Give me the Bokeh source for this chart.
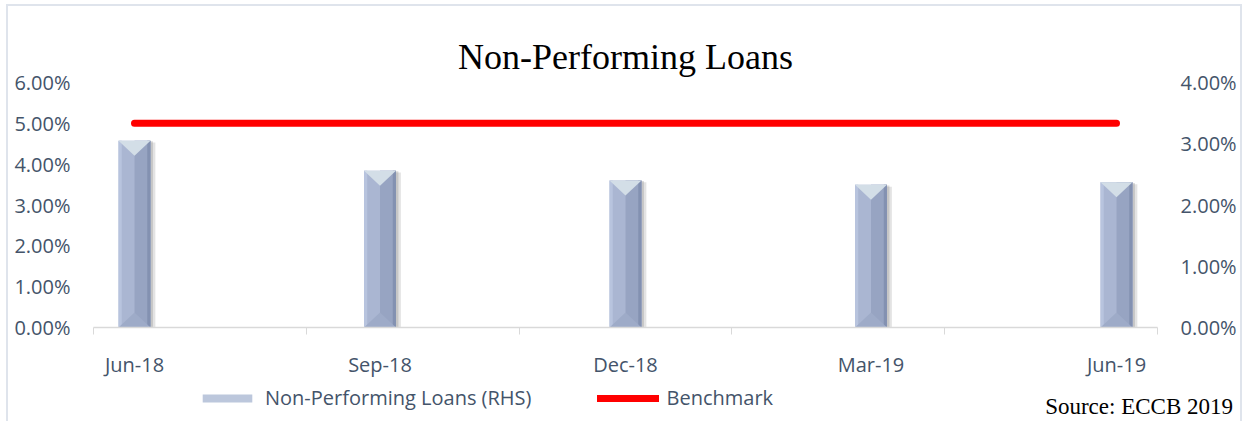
import numpy as np
from bokeh.plotting import figure
from bokeh.layouts import column
from bokeh.models import (Range1d, LinearAxis, FixedTicker, NumeralTickFormatter,
                          Legend, LegendItem, ColumnDataSource, Div)
from bokeh.embed import file_html
from bokeh.resources import INLINE

# ---- data ----
categories = ["Jun-18", "Sep-18", "Dec-18", "Mar-19", "Jun-19"]
npl_rhs = [0.0305, 0.0256, 0.0240, 0.0233, 0.0237]
benchmark = [0.05, 0.05, 0.05, 0.05, 0.05]
left_ticks = [0.00, 0.01, 0.02, 0.03, 0.04, 0.05, 0.06]
right_ticks = [0.00, 0.01, 0.02, 0.03, 0.04]

FONT = "Open Sans"
TXT = "#44546a"
FS = "20px"
BAR = "#aab6d2"
RED = "#ff0000"

x = np.arange(len(categories), dtype=float)
pad = 0.167
bw = 0.13

p = figure(width=1232, height=376, output_backend="svg", toolbar_location=None,
           x_range=Range1d(x[0] - pad, x[-1] + pad), y_range=Range1d(0, 0.06),
           min_border_left=85, min_border_right=83, min_border_top=76, min_border_bottom=55)
p.extra_y_ranges = {"rhs": Range1d(0, 0.04)}
p.outline_line_color = None
p.grid.visible = False

# title
p.title.text = "Non-Performing Loans"
p.title.align = "center"
p.title.text_font = "Liberation Serif"
p.title.text_font_size = "36px"
p.title.text_font_style = "normal"
p.title.text_color = "black"
p.title.standoff = 12

# x axis
p.xaxis.ticker = FixedTicker(ticks=list(x),
                             minor_ticks=list(np.linspace(x[0] - pad, x[-1] + pad, len(categories) + 1)))
p.xaxis.major_label_overrides = {i: c for i, c in enumerate(categories)}
p.xaxis.axis_line_color = "#d9d9d9"
p.xaxis.axis_line_width = 1.5
p.xaxis.major_tick_line_color = None
p.xaxis.major_tick_out = 0
p.xaxis.major_tick_in = 0
p.xaxis.minor_tick_line_color = "#d9d9d9"
p.xaxis.minor_tick_out = 7
p.xaxis.minor_tick_in = 0
p.xaxis.major_label_standoff = 16
p.xaxis.major_label_text_font = FONT
p.xaxis.major_label_text_font_size = FS
p.xaxis.major_label_text_color = TXT

# left y axis
p.yaxis.ticker = FixedTicker(ticks=left_ticks)
p.yaxis.formatter = NumeralTickFormatter(format="0.00%")
p.yaxis.axis_line_color = None
p.yaxis.major_tick_line_color = None
p.yaxis.major_tick_out = 0
p.yaxis.minor_tick_line_color = None
p.yaxis.major_label_standoff = 23
p.yaxis.major_label_text_font = FONT
p.yaxis.major_label_text_font_size = FS
p.yaxis.major_label_text_color = TXT

# right y axis
ra = LinearAxis(y_range_name="rhs", ticker=FixedTicker(ticks=right_ticks),
                formatter=NumeralTickFormatter(format="0.00%"))
ra.axis_line_color = None
ra.major_tick_line_color = None
ra.major_tick_out = 0
ra.minor_tick_line_color = None
ra.major_label_standoff = 23
ra.major_label_text_font = FONT
ra.major_label_text_font_size = FS
ra.major_label_text_color = TXT
p.add_layout(ra, "right")

# bars with a bevelled look
top = np.array(npl_rhs)
dy = 0.00245
src = ColumnDataSource(dict(x=x, top=top))
p.vbar(x=x + 0.014, top=top - 0.0003, width=bw + 0.012, bottom=0, y_range_name="rhs",
       fill_color="#808080", fill_alpha=0.22, line_color=None)
p.vbar(x=x + 0.008, top=top - 0.0001, width=bw + 0.004, bottom=0, y_range_name="rhs",
       fill_color="#707070", fill_alpha=0.25, line_color=None)
bars = p.vbar(x="x", top="top", width=bw, bottom=0, source=src, y_range_name="rhs",
              fill_color=BAR, line_color=None)
p.vbar(x=x + bw / 4, top=top, width=bw / 2, bottom=0, y_range_name="rhs",
       fill_color="#97a4c2", line_color=None)
p.vbar(x=x + bw * 0.45, top=top, width=bw * 0.1, bottom=0, y_range_name="rhs",
       fill_color="#8391b1", line_color=None)
p.vbar(x=x - bw * 0.45, top=top, width=bw * 0.1, bottom=0, y_range_name="rhs",
       fill_color="#b8c4de", line_color=None)
p.patches(xs=[[xi - bw / 2, xi + bw / 2, xi] for xi in x],
          ys=[[t, t, t - dy] for t in top], y_range_name="rhs",
          fill_color="#d3dee7", line_color=None)
p.patches(xs=[[xi - bw / 2, xi, xi + bw / 2] for xi in x],
          ys=[[0, dy, 0] for _ in top], y_range_name="rhs",
          fill_color="#9eabc8", line_color=None)

# benchmark line
line = p.line(x, benchmark, line_color=RED, line_width=7, line_cap="round")

# ---- legend strip (legend handles sit outside the visible range) ----
q = figure(width=1232, height=34, output_backend="svg", toolbar_location=None,
           x_range=Range1d(0, 1), y_range=Range1d(0, 1),
           min_border_left=0, min_border_right=0, min_border_top=0, min_border_bottom=0,
           x_axis_location=None, y_axis_location=None)
q.outline_line_color = None
q.grid.visible = False
leg_bar = q.vbar(x=[-5], top=[-5], bottom=[-6], width=0.1, fill_color="#bcc7dc", line_color=None)
leg_line = q.line(x=[-5, -4], y=[-5, -5], line_color=RED, line_width=7, line_cap="round")

legend = Legend(items=[LegendItem(label="Non-Performing Loans (RHS)", renderers=[leg_bar]),
                       LegendItem(label="Benchmark", renderers=[leg_line])],
                orientation="horizontal", location=(103, 5),
                label_text_font=FONT, label_text_font_size=FS, label_text_color=TXT,
                glyph_width=62, glyph_height=10, label_standoff=7, spacing=66,
                padding=0, margin=0, border_line_color=None, background_fill_alpha=0)
q.add_layout(legend, "center")

# source note
src_div = Div(text="Source: ECCB 2019", width=1220, height=22,
              styles={"text-align": "right", "font-family": "Liberation Serif",
                      "font-size": "23px", "color": "black", "margin-top": "-20px",
                      "line-height": "22px"})

lay = column(p, q, src_div, spacing=0)
lay.styles = {"border": "2px solid #dfe4ec", "margin": "4px 0 0 6px"}

open("out.html", "w").write(file_html(lay, INLINE))
